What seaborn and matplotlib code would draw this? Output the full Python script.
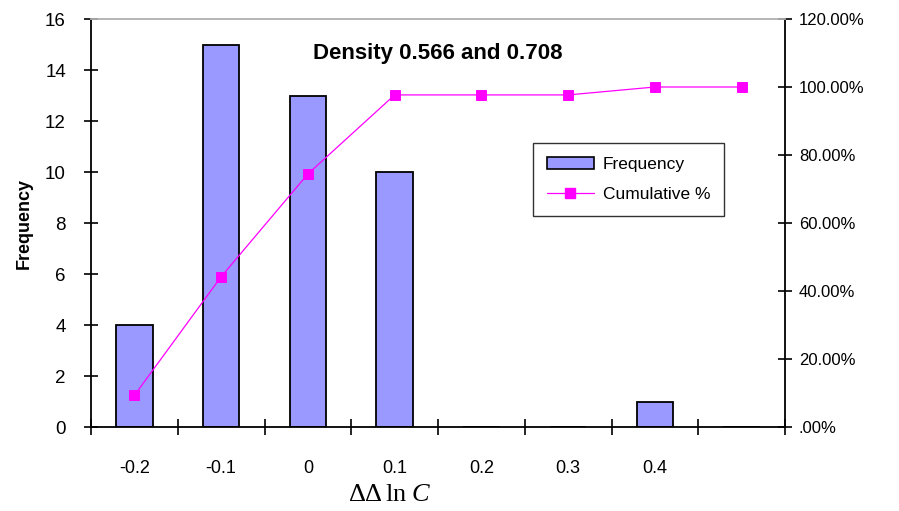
import matplotlib
matplotlib.use("Agg")
import matplotlib.pyplot as plt
from matplotlib.ticker import FixedLocator, FuncFormatter
from matplotlib.patches import Patch
from matplotlib.lines import Line2D
import numpy as np
import pandas as pd
import seaborn as sns

# Histogram bins (upper edges) and counts
bins = ["-0.2", "-0.1", "0", "0.1", "0.2", "0.3", "0.4", "More"]
bin_labels = ["-0.2", "-0.1", "0", "0.1", "0.2", "0.3", "0.4", ""]
frequency = [4, 15, 13, 10, 0, 0, 1, 0]
cumulative_pct = [9.30, 44.19, 74.42, 97.67, 97.67, 97.67, 100.00, 100.00]

left_ticks = [0, 2, 4, 6, 8, 10, 12, 14, 16]
right_ticks = [0, 20, 40, 60, 80, 100, 120]

sns.set_style("white")
plt.rcParams["font.family"] = ["Liberation Sans", "DejaVu Sans"]
plt.rcParams["text.color"] = "black"
plt.rcParams["axes.labelcolor"] = "black"
plt.rcParams["xtick.color"] = "black"
plt.rcParams["ytick.color"] = "black"
plt.rcParams["mathtext.fontset"] = "custom"
plt.rcParams["mathtext.rm"] = "Liberation Serif"
plt.rcParams["mathtext.it"] = "Liberation Serif:italic"

df = pd.DataFrame({"bin": bins, "Frequency": frequency, "Cumulative %": cumulative_pct})

fig = plt.figure(figsize=(8.99, 5.11), dpi=100)
ax = fig.add_axes([91 / 899, 1 - 427 / 511, (785 - 91) / 899, (427 - 19) / 511])

sns.barplot(data=df, x="bin", y="Frequency", order=bins, color="#9999FF",
            saturation=1, edgecolor="black", linewidth=1.3, width=0.42, ax=ax)
ax.set_ylim(0, 16)
ax.set_xlim(-0.5, len(bins) - 0.5)

ax2 = ax.twinx()
sns.pointplot(data=df, x="bin", y="Cumulative %", order=bins, color="#FF00FF",
              markers="s", markersize=7, linewidth=0.9, ax=ax2)
ax2.set_ylim(0, 120)
ax2.set_xlim(-0.5, len(bins) - 0.5)

# Spines
for a in (ax, ax2):
    for s in a.spines.values():
        s.set_visible(False)
ax.spines["left"].set_visible(True)
ax.spines["bottom"].set_visible(True)
ax2.spines["right"].set_visible(True)
ax2.spines["top"].set_visible(True)
for s in (ax.spines["left"], ax.spines["bottom"], ax2.spines["right"]):
    s.set_color("black")
    s.set_linewidth(1.3)
ax2.spines["top"].set_color("#b0b0b0")
ax2.spines["top"].set_linewidth(1.3)

# Left axis
ax.set_yticks(left_ticks)
ax.set_yticklabels([str(t) for t in left_ticks])
ax.tick_params(axis="y", direction="inout", length=10, width=1.2, labelsize=13.5,
               left=True, pad=13)
ax.set_ylabel("Frequency", fontsize=13, fontweight="bold", labelpad=9)

# X axis: labels under bars, tick marks on bin boundaries
ax.set_xticks(range(len(bins)))
ax.set_xticklabels(bin_labels)
ax.tick_params(axis="x", which="major", length=0, labelsize=13, pad=24)
ax.xaxis.set_minor_locator(FixedLocator(np.arange(-0.5, len(bins), 1.0)))
ax.tick_params(axis="x", which="minor", direction="inout", length=11, width=1.2,
               bottom=True)
ax.set_xlabel(r"$\Delta\Delta\,\mathrm{ln}\ C$", fontsize=19, labelpad=4)
ax.xaxis.set_label_coords(0.43, -0.135)

# Right axis
def pct_fmt(v, _):
    s = f"{v:.2f}%"
    return s[1:] if s.startswith("0") else s

ax2.set_yticks(right_ticks)
ax2.yaxis.set_major_formatter(FuncFormatter(pct_fmt))
ax2.tick_params(axis="y", direction="inout", length=10, width=1.2, labelsize=12,
                right=True, pad=5)
ax2.set_ylabel("")

ax.text(0.5, 0.915, "Density 0.566 and 0.708", transform=ax.transAxes,
        ha="center", va="center", fontsize=16, fontweight="bold")

# Legend
handles = [Patch(facecolor="#9999FF", edgecolor="black", linewidth=1.2),
           Line2D([], [], color="#FF00FF", marker="s", markersize=7, linewidth=0.9)]
leg = ax2.legend(handles, ["Frequency", "Cumulative %"], loc="upper left",
                 bbox_to_anchor=(0.637, 0.697), borderaxespad=0, fontsize=12.5,
                 frameon=True, fancybox=False, edgecolor="black", handlelength=2.7,
                 borderpad=0.8, labelspacing=0.9, handletextpad=0.5)
leg.get_frame().set_linewidth(1.0)
if ax.get_legend() is not None:
    ax.get_legend().remove()

fig.savefig("out.png", dpi=100)
